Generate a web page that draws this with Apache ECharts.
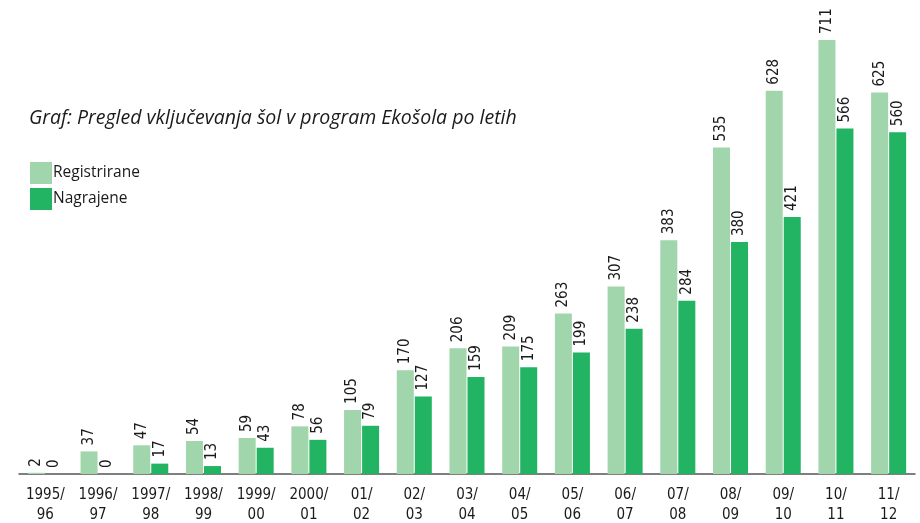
<!DOCTYPE html>
<html>
<head>
<meta charset="utf-8">
<script src="https://cdn.jsdelivr.net/npm/echarts@6/dist/echarts.min.js"></script>
<style>
  html, body { margin: 0; padding: 0; background: #fff; }
  #chart { width: 920px; height: 523px; }
</style>
</head>
<body>
<div id="chart"></div>
<script>
const years = ['1995/\n96', '1996/\n97', '1997/\n98', '1998/\n99', '1999/\n00', '2000/\n01',
  '01/\n02', '02/\n03', '03/\n04', '04/\n05', '05/\n06', '06/\n07', '07/\n08', '08/\n09',
  '09/\n10', '10/\n11', '11/\n12']
const registrirane = [2, 37, 47, 54, 59, 78, 105, 170, 206, 209, 263, 307, 383, 535, 628, 711, 625]
const nagrajene = [0, 0, 17, 13, 43, 56, 79, 127, 159, 175, 199, 238, 284, 380, 421, 566, 560]

const narrow = '"Liberation Sans Narrow", "DejaVu Sans Condensed", sans-serif'

const barLabel = {
  show: true,
  position: 'top',
  rotate: 90,
  align: 'left',
  verticalAlign: 'middle',
  distance: 6,
  color: '#1a1a1a',
  fontFamily: narrow,
  fontSize: 15
}

const chart = echarts.init(document.getElementById('chart'))
chart.setOption({
  animation: false,
  title: {
    text: 'Graf: Pregled vključevanja šol v program Ekošola po letih',
    left: 24,
    top: 103,
    textStyle: {
      fontFamily: '"Open Sans", sans-serif',
      fontStyle: 'italic',
      fontWeight: 'normal',
      fontSize: 19.5,
      color: '#1a1a1a'
    }
  },
  legend: {
    orient: 'vertical',
    left: 30,
    top: 162,
    padding: 0,
    itemWidth: 22,
    itemHeight: 22,
    itemGap: 4,
    icon: 'rect',
    textStyle: {
      fontFamily: '"Open Sans", sans-serif',
      fontSize: 15.5,
      color: '#1a1a1a',
      padding: [6, 0, 0, -4]
    },
    data: ['Registrirane', 'Nagrajene']
  },
  grid: {
    left: 19,
    right: 5,
    top: 40,
    bottom: 49,
    outerBoundsMode: 'none'
  },
  xAxis: {
    type: 'category',
    data: years,
    axisLine: { lineStyle: { color: '#555', width: 1.5 } },
    axisTick: { show: false },
    axisLabel: {
      interval: 0,
      margin: 11,
      color: '#1a1a1a',
      fontFamily: narrow,
      fontSize: 15,
      lineHeight: 20
    }
  },
  yAxis: {
    type: 'value',
    min: 0,
    max: 711,
    show: false,
    splitLine: { show: false }
  },
  series: [
    {
      name: 'Registrirane',
      type: 'bar',
      data: registrirane,
      barWidth: 17,
      barGap: '6%',
      itemStyle: { color: '#a1d5ab' },
      label: barLabel
    },
    {
      name: 'Nagrajene',
      type: 'bar',
      data: nagrajene,
      barWidth: 17,
      itemStyle: { color: '#22b462' },
      label: barLabel
    }
  ]
})

window.onresize = () => {
  chart.resize()
}
</script>
</body>
</html>
